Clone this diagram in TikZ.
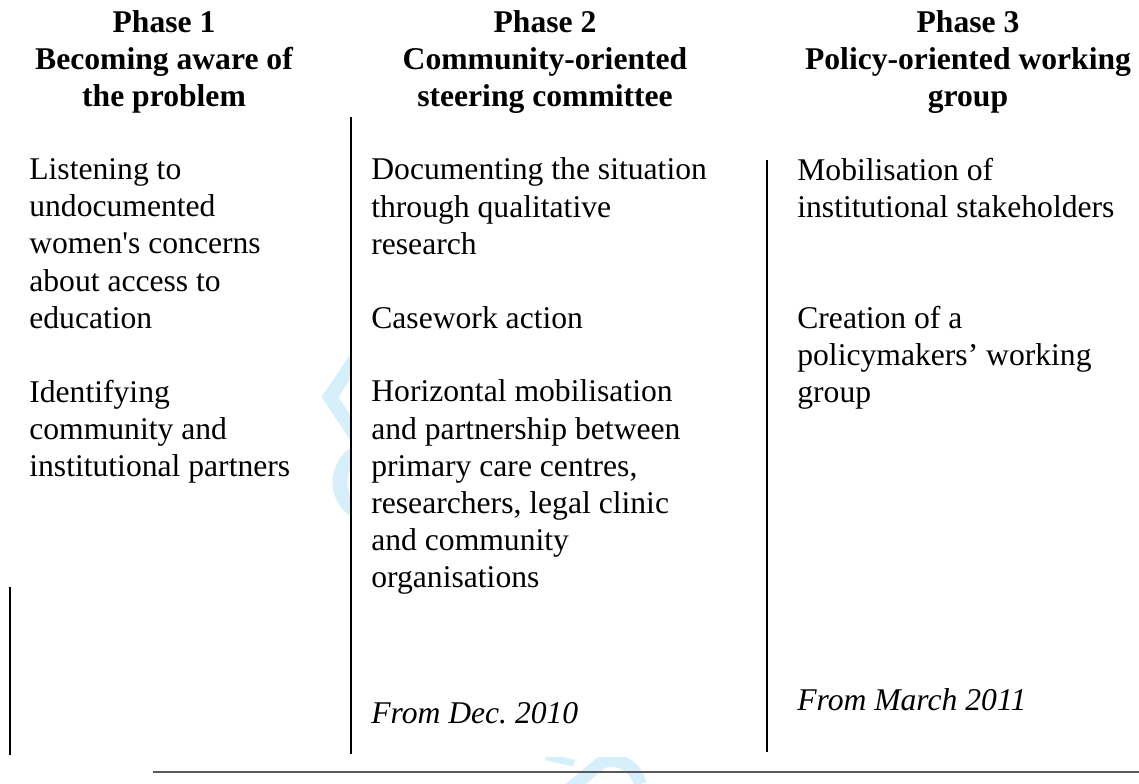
\documentclass[tikz,border=0pt]{standalone}
\usepackage{fontspec}
\setmainfont{Liberation Serif}
\definecolor{wmark}{RGB}{214,239,251}
\tikzset{
  phasehead/.style={font=\bfseries\fontsize{18}{21.06}\selectfont, align=center, anchor=base, inner sep=0pt},
  steptext/.style={font=\fontsize{18}{21.06}\selectfont, align=left, anchor=base west, inner sep=0pt},
  sincetext/.style={steptext, font=\itshape\fontsize{18}{21.06}\selectfont},
  colrule/.style={black, line width=0.7pt},
}
\begin{document}
\begin{tikzpicture}[x=0.02cm,y=-0.02cm]
                \useasboundingbox (0,0) rectangle (1139,784);

                \begin{scope}
                    \clip (280,340) rectangle (350,520);
                    \draw[wmark,line width=0.28cm] (356,358) -- (330,397) -- (356,436);
                    \draw[wmark,line width=0.3cm] (374,482) circle (34);
                \end{scope}
                \begin{scope}
                    \clip (520,757) rectangle (680,784);
                    \draw[wmark,line width=0.14cm] (546,757) -- (574,763);
                    \draw[wmark,line width=0.26cm] (566,792) -- (602,762) to[out=20,in=100] (640,784);
                \end{scope}

                % multi-line nodes are placed by the baseline of their last line
                \node[phasehead] (head1) at (164,107) {Phase 1\\Becoming aware of\\the problem};
                \node[phasehead] (head2) at (545,107) {Phase 2\\Community-oriented\\steering committee};
                \node[phasehead] (head3) at (968,107) {Phase 3\\Policy-oriented working\\group};

                \node[steptext] (listen) at (29,328) {Listening to\\undocumented\\women\textquotesingle s concerns\\about access to\\education};
                \node[steptext] (partners) at (29,476) {Identifying\\community and\\institutional partners};

                \node[steptext] (document) at (371,254) {Documenting the situation\\through qualitative\\research};
                \node[steptext] (casework) at (371,328) {Casework action};
                \node[steptext] (horizontal) at (371,587) {Horizontal mobilisation\\and partnership between\\primary care centres,\\researchers, legal clinic\\and community\\organisations};
                \node[sincetext] (since2) at (371,723) {From Dec.\ 2010};

                \node[steptext] (mobilise) at (797,217) {Mobilisation of\\institutional stakeholders};
                \node[steptext] (creation) at (797,402) {Creation of a\\policymakers’ working\\group};
                \node[sincetext] (since3) at (797,710) {From March 2011};

                \draw[colrule] (10,587) -- (10,755);
                \draw[colrule] (351,117) -- (351,754);
                \draw[colrule] (767,160) -- (767,752);
                \draw[black!65,line width=0.6pt] (153,772) -- (1139,772);
            \end{tikzpicture}
\end{document}
